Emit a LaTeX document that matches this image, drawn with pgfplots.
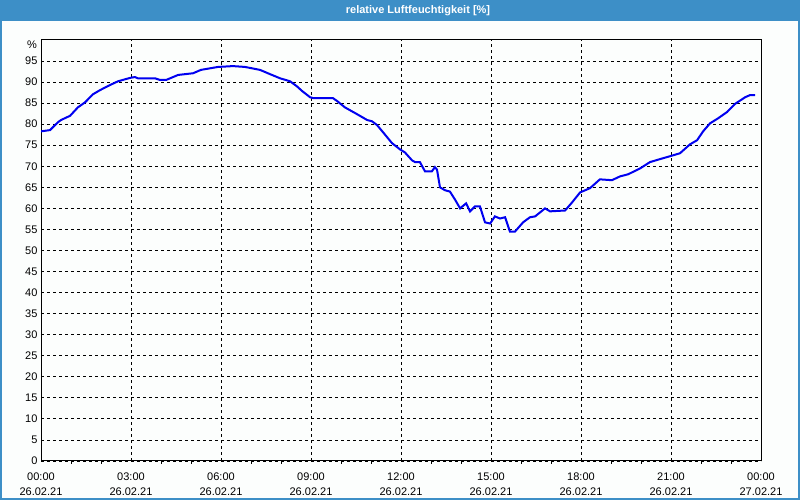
\documentclass[border=0pt]{standalone}
\usepackage{pgfplots}
\pgfplotsset{compat=1.18}
\usepackage{fontspec}
\setmainfont{Liberation Sans}
\definecolor{titleblue}{RGB}{61,143,199}
\definecolor{bgc}{RGB}{252,254,253}
\definecolor{curve}{RGB}{0,0,240}
\begin{document}
\begin{tikzpicture}
\path[use as bounding box] (0pt,0pt) rectangle (800pt,500pt);
\fill[bgc] (0pt,0pt) rectangle (800pt,500pt);
\fill[titleblue] (0pt,479pt) rectangle (800pt,500pt);
\draw[titleblue, line width=2pt] (1pt,1pt) rectangle (799pt,499pt);
\node[white, font=\fontsize{11}{13}\selectfont\bfseries] at (418pt,489.5pt) {relative Luftfeuchtigkeit [\%]};
\node[anchor=east, font=\fontsize{11}{13}\selectfont, inner sep=0pt] at (37pt,455pt) {\%};
\begin{axis}[
  at={(41pt,39pt)}, anchor=south west,
  scale only axis, width=720pt, height=421pt,
  xmin=0, xmax=24, ymin=0, ymax=100,
  axis line style={black, line width=1pt},
  xtick={0,3,...,24},
  xticklabels={{00:00\\26.02.21},{03:00\\26.02.21},{06:00\\26.02.21},{09:00\\26.02.21},{12:00\\26.02.21},{15:00\\26.02.21},{18:00\\26.02.21},{21:00\\26.02.21},{00:00\\27.02.21}},
  minor xtick={1,2,4,5,7,8,10,11,13,14,16,17,19,20,22,23},
  ytick={0,5,...,95},
  major tick length=0pt,
  minor tick length=3pt,
  tick align=outside,
  minor tick style={black, line width=1pt},
  xtick pos=bottom, ytick pos=left,
  grid=major,
  major grid style={black, line width=0.8pt, dash pattern=on 3pt off 3pt},
  /pgf/number format/assume math mode=true,
  tick label style={font=\fontsize{11}{15}\selectfont, black},
  xticklabel style={align=center, font=\fontsize{11}{15}\selectfont, yshift=-8pt},
]
\addplot[curve, line width=2pt] coordinates {
(0,78.3) (0.30,78.6) (0.57,80.5) (0.67,81.0) (0.97,82.0) (1.23,84.0) (1.47,85.2) (1.73,87.1) (1.97,88.1) (2.30,89.3) (2.57,90.2) (2.97,91.0) (3.13,91.2) (3.23,90.9) (3.80,90.9) (3.97,90.5) (4.17,90.5) (4.57,91.7) (5.07,92.1) (5.33,92.9) (5.90,93.6) (6.40,93.8) (6.80,93.6) (7.30,92.9) (7.63,91.9) (7.97,90.9) (8.30,90.2) (8.53,89.0) (8.70,87.9) (8.97,86.4) (9.07,86.2) (9.73,86.2) (9.87,85.5) (10.13,84.0) (10.53,82.4) (10.87,81.0) (11.03,80.7) (11.20,79.8) (11.40,78.1) (11.70,75.5) (11.97,74.0) (12.13,73.3) (12.37,71.4) (12.47,71.0) (12.63,71.0) (12.80,68.8) (13.03,68.8) (13.13,69.8) (13.20,69.2) (13.30,65.0) (13.47,64.3) (13.63,64.0) (13.80,62.1) (13.97,60.0) (14.17,61.2) (14.30,59.3) (14.47,60.5) (14.63,60.5) (14.80,56.7) (14.97,56.4) (15.13,58.1) (15.30,57.6) (15.47,57.9) (15.63,54.5) (15.80,54.5) (16.07,56.7) (16.30,57.9) (16.47,58.1) (16.80,60.0) (16.97,59.3) (17.47,59.5) (17.70,61.4) (17.97,63.8) (18.30,64.8) (18.63,66.9) (19.03,66.7) (19.30,67.6) (19.57,68.1) (19.97,69.5) (20.30,71.0) (20.63,71.7) (20.97,72.4) (21.30,73.1) (21.63,75.2) (21.87,76.2) (22.07,78.3) (22.30,80.2) (22.57,81.4) (22.87,82.9) (23.13,84.8) (23.47,86.4) (23.63,86.9) (23.80,86.9)
};
\end{axis}
\end{tikzpicture}
\end{document}
